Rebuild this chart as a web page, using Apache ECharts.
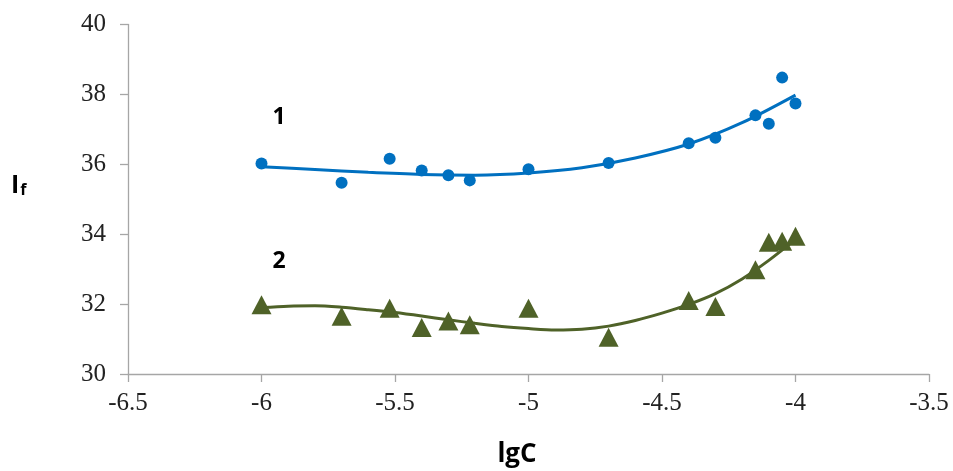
<!DOCTYPE html>
<html>
<head>
<meta charset="utf-8">
<script src="https://cdn.jsdelivr.net/npm/echarts@6/dist/echarts.min.js"></script>
<style>html,body{margin:0;padding:0;background:#fff;}#c{width:953px;height:471px;}</style>
</head>
<body>
<div id="c"></div>
<script>
// Measured data
var xValues = [-6.0, -5.70, -5.52, -5.40, -5.30, -5.22, -5.0, -4.70, -4.40, -4.30, -4.15, -4.10, -4.05, -4.0];
var series1Y = [36.02, 35.47, 36.16, 35.82, 35.69, 35.54, 35.86, 36.04, 36.60, 36.76, 37.40, 37.16, 38.48, 37.74];
var series2Y = [31.98, 31.65, 31.88, 31.33, 31.52, 31.41, 31.88, 31.05, 32.10, 31.93, 32.98, 33.77, 33.80, 33.94];
// Trend curves
var trend1X = [-6.0, -5.8, -5.6, -5.4, -5.2, -5.0, -4.8, -4.6, -4.4, -4.2, -4.0];
var trend1Y = [35.93, 35.85, 35.77, 35.71, 35.69, 35.75, 35.90, 36.18, 36.58, 37.19, 37.98];
var trend2X = [-6.0, -5.9, -5.8, -5.7, -5.6, -5.5, -5.4, -5.3, -5.2, -5.1, -5.0, -4.9, -4.8, -4.7, -4.6, -4.5, -4.4, -4.3, -4.2, -4.1, -4.0];
var trend2Y = [31.90, 31.94, 31.95, 31.91, 31.84, 31.76, 31.66, 31.55, 31.45, 31.36, 31.30, 31.26, 31.28, 31.37, 31.53, 31.74, 31.99, 32.30, 32.72, 33.25, 33.85];
var xTicks = {min: -6.5, max: -3.5, interval: 0.5};
var yTicks = {min: 30, max: 40, interval: 2};

function pairs(xs, ys) { return xs.map(function (x, i) { return [x, ys[i]]; }); }

var blue = '#0070C0';
var green = '#4F6228';
var axisGray = '#A6A6A6';
var serif = "'Liberation Serif', 'Times New Roman', 'DejaVu Serif', serif";
var sans = "'Open Sans', 'Liberation Sans', sans-serif";
var chart = echarts.init(document.getElementById('c'));
chart.setOption({
  animation: false,
  textStyle: {fontFamily: serif},
  grid: {left: 128, right: 24, top: 24.5, bottom: 97, containLabel: false},
  xAxis: {
    type: 'value', min: xTicks.min, max: xTicks.max, interval: xTicks.interval,
    axisLine: {show: true, onZero: false, lineStyle: {color: axisGray, width: 1.3}},
    axisTick: {show: true, length: 8, lineStyle: {color: axisGray, width: 1.3}},
    splitLine: {show: false},
    axisLabel: {margin: 17, color: '#222', fontFamily: serif, fontSize: 25,
      formatter: function (v) { return String(v); }}
  },
  yAxis: {
    type: 'value', min: yTicks.min, max: yTicks.max, interval: yTicks.interval,
    axisLine: {show: true, onZero: false, lineStyle: {color: axisGray, width: 1.3}},
    axisTick: {show: true, length: 8, lineStyle: {color: axisGray, width: 1.3}},
    splitLine: {show: false},
    axisLabel: {margin: 22, color: '#222', fontFamily: serif, fontSize: 25}
  },
  graphic: [
    {type: 'text', left: 11, top: 173, style: {
      text: '{a|I}{b|f}', rich: {
        a: {fontFamily: sans, fontWeight: 'bold', fontSize: 25, fill: '#000'},
        b: {fontFamily: sans, fontWeight: 'bold', fontSize: 16, fill: '#000', verticalAlign: 'bottom', padding: [9, 0, 0, 1]}
      }}},
    {type: 'text', x: 279, y: 117, style: {text: '1', fontFamily: sans, fontWeight: 'bold', fontSize: 23, fill: '#000', align: 'center', verticalAlign: 'middle'}},
    {type: 'text', x: 279, y: 261, style: {text: '2', fontFamily: sans, fontWeight: 'bold', fontSize: 23, fill: '#000', align: 'center', verticalAlign: 'middle'}},
    {type: 'text', x: 517, y: 455, style: {text: 'lgC', fontFamily: sans, fontWeight: 'bold', fontSize: 26, fill: '#000', align: 'center', verticalAlign: 'middle'}}
  ],
  series: [
    {type: 'line', data: pairs(trend1X, trend1Y), smooth: 0.3, showSymbol: false,
      lineStyle: {color: blue, width: 3}, z: 2},
    {type: 'line', data: pairs(trend2X, trend2Y), smooth: 0.3, showSymbol: false,
      lineStyle: {color: green, width: 3}, z: 2},
    {type: 'scatter', data: pairs(xValues, series1Y), symbol: 'circle', symbolSize: 12,
      itemStyle: {color: blue, opacity: 1}, z: 3},
    {type: 'scatter', data: pairs(xValues, series2Y), symbol: 'triangle', symbolSize: [20, 19],
      itemStyle: {color: green, opacity: 1}, z: 3}
  ]
});
</script>
</body>
</html>
